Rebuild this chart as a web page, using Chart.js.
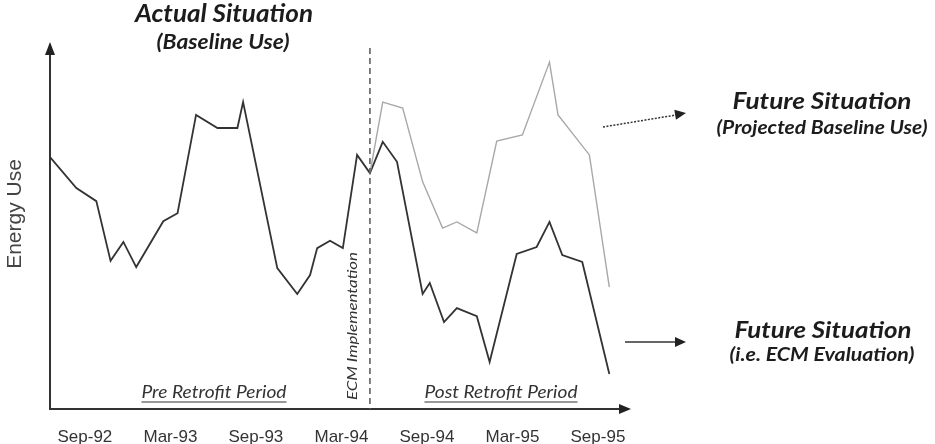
<!DOCTYPE html>
<html>
<head>
<meta charset="utf-8">
<script src="https://cdn.jsdelivr.net/npm/chart.js@4.4.1/dist/chart.umd.min.js"></script>
<style>
  html, body { margin: 0; padding: 0; background: #fff; }
  #wrap { width: 935px; height: 444px; }
</style>
</head>
<body>
<div id="wrap"><canvas id="energyChart" width="935" height="444"></canvas></div>
<script>
// months counted from Sep-92 (tick label positions)
const tickMonths = [0, 6, 12, 18, 24, 30, 36];
const tickLabels = ['Sep-92', 'Mar-93', 'Sep-93', 'Mar-94', 'Sep-94', 'Mar-95', 'Sep-95'];

// baseline use, then actual use after the ECM (one line)
const actualMonths = [-2.45, -0.6, 0.8, 1.8, 2.7, 3.6, 5.5, 6.5, 7.8, 9.3, 10.7, 11.1, 13.5, 14.9, 15.8, 16.3, 17.2,
  18.1, 19.1, 20.0, 20.9, 21.9, 23.7, 24.2, 25.2, 26.1, 27.5, 28.4, 30.3, 31.7, 32.6, 33.5, 34.9, 36.8];
const actualUse = [69.2, 60.7, 57.1, 40.7, 45.9, 39.0, 51.6, 53.8, 80.8, 77.2, 77.2, 84.3, 38.7, 31.6, 36.8, 44.2, 46.2,
  44.2, 69.8, 64.8, 73.4, 67.9, 31.6, 34.6, 23.9, 27.7, 25.5, 12.9, 42.6, 44.5, 51.4, 42.3, 40.4, 9.6];

// projected baseline use after the ECM
const projectedMonths = [20.0, 20.9, 22.3, 23.7, 25.1, 26.1, 27.5, 28.9, 30.7, 32.6, 33.2, 35.4, 36.8];
const projectedUse = [64.8, 84.3, 82.7, 62.4, 49.7, 51.4, 48.4, 73.6, 75.3, 95.3, 80.8, 69.8, 33.5];

const ecmMonth = 20;

function toPoints(xs, ys) {
    return xs.map((x, i) => ({ x: x, y: ys[i] }));
}

const labelFont = '"Lato", "Open Sans", sans-serif';

// centred italic text, stretched to the width it has in the reference
function drawText(ctx, txt, x, y, size, width, opts) {
    opts = opts || {};
    const color = opts.color || '#1c1c1c';
    ctx.font = (opts.weight || 'bold') + ' italic ' + size + 'px ' + labelFont;
    const w = ctx.measureText(txt).width;
    const sx = width ? width / w : 1;
    ctx.save();
    ctx.translate(x, y);
    ctx.scale(sx, 1);
    ctx.fillStyle = color;
    ctx.textAlign = 'center';
    ctx.textBaseline = 'middle';
    ctx.fillText(txt, 0, 0);
    if (opts.underline) {
        ctx.strokeStyle = color;
        ctx.lineWidth = 1;
        ctx.beginPath();
        ctx.moveTo(-w / 2, size * 0.55);
        ctx.lineTo(w / 2, size * 0.55);
        ctx.stroke();
    }
    ctx.restore();
}

function arrowHead(ctx, x, y, dir, len, half) {
    ctx.beginPath();
    if (dir === 'up') {
        ctx.moveTo(x, y); ctx.lineTo(x - half, y + len); ctx.lineTo(x + half, y + len);
    } else {
        ctx.moveTo(x, y); ctx.lineTo(x - len, y - half); ctx.lineTo(x - len, y + half);
    }
    ctx.closePath();
    ctx.fill();
}

const annotations = {
    id: 'annotations',
    afterDraw(chart) {
        const { ctx, chartArea, scales } = chart;
        const xs = scales.x;
        ctx.save();

        // axis arrows
        ctx.fillStyle = '#222';
        arrowHead(ctx, chartArea.left, chartArea.top - 3, 'up', 13, 5);
        arrowHead(ctx, chartArea.right + 4, chartArea.bottom, 'right', 12, 5);

        // y axis title
        ctx.save();
        ctx.translate(15, 214);
        ctx.rotate(-Math.PI / 2);
        ctx.font = '21px "Liberation Sans", Arial, sans-serif';
        ctx.fillStyle = '#444';
        ctx.textAlign = 'center';
        ctx.textBaseline = 'middle';
        ctx.fillText('Energy Use', 0, 0);
        ctx.restore();

        // ECM implementation marker
        const ex = xs.getPixelForValue(ecmMonth);
        ctx.strokeStyle = '#555';
        ctx.lineWidth = 1.5;
        ctx.setLineDash([6, 4]);
        ctx.beginPath();
        ctx.moveTo(ex, chartArea.top + 3);
        ctx.lineTo(ex, chartArea.bottom);
        ctx.stroke();
        ctx.setLineDash([]);

        ctx.save();
        ctx.translate(ex - 17, 326);
        ctx.rotate(-Math.PI / 2);
        drawText(ctx, 'ECM Implementation', 0, 0, 14, 148, { weight: 'normal', color: '#333' });
        ctx.restore();

        // headings
        drawText(ctx, 'Actual Situation', 224, 14, 24, 178);
        drawText(ctx, '(Baseline Use)', 223, 43, 20, 133);
        drawText(ctx, 'Pre Retrofit Period', 214, 392, 18, 145, { weight: 'normal', underline: true, color: '#333' });
        drawText(ctx, 'Post Retrofit Period', 501, 392, 18, 153, { weight: 'normal', underline: true, color: '#333' });

        drawText(ctx, 'Future Situation', 822, 102, 23, 179);
        drawText(ctx, '(Projected Baseline Use)', 822, 128, 19, 211);
        drawText(ctx, 'Future Situation', 823, 331, 23, 177);
        drawText(ctx, '(i.e. ECM Evaluation)', 822, 355, 19, 185);

        // pointer arrows
        ctx.strokeStyle = '#333';
        ctx.lineWidth = 1.5;
        ctx.setLineDash([2, 1.5]);
        ctx.beginPath();
        ctx.moveTo(603, 127);
        ctx.lineTo(676, 115);
        ctx.stroke();
        ctx.setLineDash([]);
        ctx.fillStyle = '#222';
        ctx.save();
        ctx.translate(686, 113);
        ctx.rotate(Math.atan2(-12, 73));
        arrowHead(ctx, 0, 0, 'right', 11, 5);
        ctx.restore();

        ctx.beginPath();
        ctx.moveTo(625, 342);
        ctx.lineTo(676, 342);
        ctx.stroke();
        arrowHead(ctx, 686, 342, 'right', 11, 5);

        ctx.restore();
    }
};

new Chart(document.getElementById('energyChart'), {
    type: 'line',
    data: {
        datasets: [{
            label: 'Projected Baseline Use',
            data: toPoints(projectedMonths, projectedUse),
            borderColor: '#a8a8a8',
            borderWidth: 1.4,
            pointRadius: 0,
            tension: 0
        }, {
            label: 'Energy Use',
            data: toPoints(actualMonths, actualUse),
            borderColor: '#333',
            borderWidth: 1.8,
            pointRadius: 0,
            tension: 0
        }]
    },
    options: {
        responsive: false,
        animation: false,
        layout: { padding: { top: 45, right: 308, left: 0, bottom: 0 } },
        plugins: {
            legend: { display: false },
            tooltip: { enabled: false }
        },
        scales: {
            x: {
                type: 'linear',
                min: -2.45,
                max: 38.04,
                afterBuildTicks(scale) {
                    scale.ticks = tickMonths.map(v => ({ value: v }));
                },
                afterFit(scale) { scale.height = 35; },
                ticks: {
                    autoSkip: false,
                    maxRotation: 0,
                    padding: 18,
                    color: '#333',
                    font: { family: '"Liberation Sans", Arial, sans-serif', size: 17 },
                    callback: (v, i) => tickLabels[i]
                },
                grid: { display: false, drawTicks: false, tickLength: 0 },
                border: { color: '#333', width: 2 }
            },
            y: {
                min: 0,
                max: 100,
                afterFit(scale) { scale.width = 50; },
                ticks: { display: false },
                grid: { display: false, drawTicks: false, tickLength: 0 },
                border: { color: '#333', width: 2 }
            }
        }
    },
    plugins: [annotations]
});
</script>
</body>
</html>
